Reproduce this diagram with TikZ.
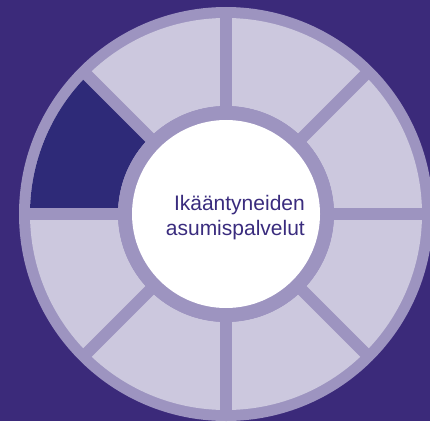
\documentclass[tikz,border=0pt]{standalone}
\usepackage{fontspec}
\setmainfont{Liberation Sans}
\definecolor{bgpurple}{RGB}{59,42,122}
\definecolor{ringlav}{RGB}{157,148,192}
\definecolor{seglight}{RGB}{204,200,222}
\definecolor{segdark}{RGB}{46,42,120}
\definecolor{txtpurple}{RGB}{58,44,126}
\begin{document}
\begin{tikzpicture}[x=1pt,y=1pt,
  spoke/.style={draw=ringlav,line width=12pt},
  label/.style={font=\fontsize{21}{25}\selectfont,text=txtpurple,align=right,inner sep=0pt}]
\useasboundingbox (0,0) rectangle (430,421);
\begin{scope}
\clip (0,0) rectangle (430,421);
\fill[bgpurple] (0,0) rectangle (430,421);
\coordinate (c) at (226,207);
\fill[ringlav] (c) circle (207);
\fill[seglight,even odd rule] (c) circle (196) (c) circle (108);
\fill[segdark] ([shift={(135:108)}]c) arc (135:180:108) -- ([shift={(180:196)}]c) arc (180:135:196) -- cycle;
\foreach \a in {0,45,...,315}{
  \draw[spoke] ([shift={(\a:100)}]c) -- ([shift={(\a:200)}]c);
}
\fill[ringlav] (c) circle (108);
\node[circle,fill=white,minimum size=188pt,inner sep=0pt] (hub) at (c) {};
\end{scope}
\node[label,anchor=east] (txt) at (305,203) {Ikääntyneiden\\asumispalvelut};
\end{tikzpicture}
\end{document}
